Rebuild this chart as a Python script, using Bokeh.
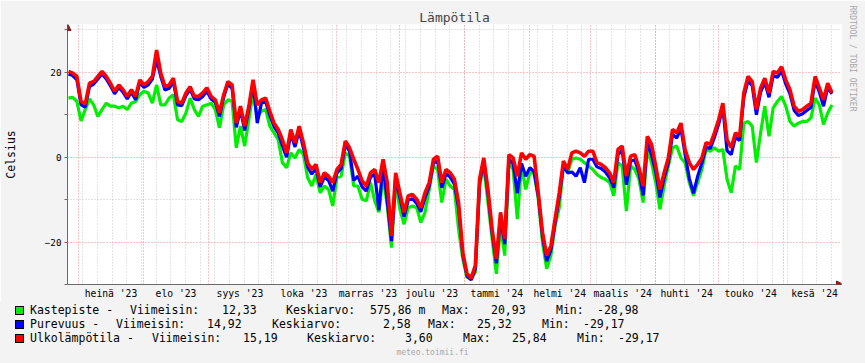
from datetime import datetime, timedelta
from bokeh.plotting import figure
from bokeh.layouts import column
from bokeh.models import (Range1d, FixedTicker, Grid, Arrow, NormalHead,
                          ColumnDataSource, Title, Div)
from bokeh.embed import file_html
from bokeh.resources import INLINE

# ---------------- data (one value every 2 days from 2023-06-26) ----------------
start = datetime(2023, 6, 26, 6, 0)

ulkolampotila = [
    20.2, 19.8, 19.0, 13.1, 12.6, 17.4, 17.8, 19.0, 20.2, 19.0,
    17.4, 15.5, 17.0, 15.9, 14.3, 15.9, 14.3, 18.2, 17.0, 17.8,
    19.0, 25.2, 19.8, 16.6, 17.0, 18.6, 13.1, 12.7, 15.1, 16.6,
    14.3, 14.3, 15.1, 16.3, 14.3, 13.5, 10.4, 14.7, 17.8, 17.0,
    8.0, 12.0, 7.3, 12.0, 18.2, 12.3, 13.5, 13.9, 10.8, 8.0,
    6.5, 4.1, 1.0, 6.5, 3.4, 7.3, 3.4, -1.3, -2.9, -1.7,
    -6.0, -3.7, -4.5, -6.0, -2.9, -1.7, 3.8, 2.2, -0.5, -2.9,
    -5.6, -6.8, -3.7, -2.9, -6.0, -0.5, -6.0, -18.6, -3.7, -8.4,
    -13.0, -9.1, -8.8, -9.9, -11.9, -8.4, -6.0, -0.5, 0.2, -6.0,
    -2.9, -3.7, -5.2, -10.7, -22.4, -27.5, -28.5, -25.5, -5.2, -0.2,
    -7.6, -17.0, -24.0, -13.0, -19.3, 0.6, -0.2, -4.5, 1.0, -0.5,
    0.6, 0.2, -8.4, -17.7, -23.2, -20.9, -14.6, -8.4, -0.9, -2.9,
    1.0, 1.4, 1.0, 0.2, 1.4, 1.4, -1.3, -1.7, -2.5, -3.7,
    -6.0, 1.8, 2.6, -4.5, 0.2, 0.6, -2.5, -6.8, 4.9, 3.0,
    -2.1, -7.6, -3.7, -0.2, 6.5, 5.7, 8.0, 1.8, -1.3, -2.9,
    -1.7, -0.2, 3.4, 3.0, 5.7, 8.8, 12.7, 4.1, 2.2, 5.7,
    4.9, 15.1, 19.0, 17.8, 11.2, 16.3, 18.6, 15.1, 20.2, 19.8,
    21.3, 18.2, 15.9, 12.0, 10.8, 11.2, 12.0, 12.7, 19.0, 16.3,
    13.5, 17.4, 15.2,
]

purevuus = [
    19.6, 19.2, 18.2, 12.3, 11.8, 16.6, 17.2, 18.4, 19.6, 18.4,
    16.8, 14.9, 16.4, 15.3, 13.7, 15.3, 13.5, 17.6, 16.4, 17.0,
    18.4, 23.0, 19.0, 15.8, 16.2, 17.8, 12.3, 12.1, 14.5, 16.0,
    13.7, 13.5, 14.3, 15.5, 13.7, 12.9, 9.6, 14.1, 17.2, 16.2,
    7.0, 11.2, 6.3, 11.2, 17.4, 8.0, 12.7, 13.1, 9.8, 7.2,
    5.7, 2.6, 0.0, 5.5, 2.4, 6.3, 2.2, -2.3, -4.0, -2.7,
    -7.0, -4.7, -5.5, -8.0, -3.7, -2.7, 3.0, 1.4, -5.5, -4.5,
    -7.0, -8.0, -4.7, -4.0, -12.5, -1.5, -10.5, -19.8, -4.7, -9.6,
    -14.0, -10.1, -9.8, -10.9, -12.9, -9.6, -6.8, -1.3, -1.0, -7.2,
    -3.9, -4.7, -6.4, -12.0, -23.0, -28.0, -28.9, -26.3, -6.0, -1.2,
    -8.6, -18.0, -25.0, -14.2, -20.5, -0.4, -1.5, -8.5, -1.5, -4.5,
    -2.5, -3.5, -9.2, -18.7, -24.5, -21.9, -15.6, -9.4, -1.9, -3.7,
    -3.5, -4.5, -2.5, -6.0, -0.5, -0.5, -2.3, -2.7, -3.5, -4.9,
    -7.2, 0.6, 1.6, -6.5, -1.0, -0.6, -3.7, -9.0, 3.5, 0.5,
    -3.5, -9.5, -4.9, -1.4, 5.3, 4.5, 6.8, 0.6, -5.0, -8.5,
    -4.5, -1.4, 2.4, 2.0, 4.7, 7.8, 11.7, 1.5, 0.6, 4.7,
    3.9, 14.1, 18.0, 16.8, 10.0, 15.3, 17.6, 14.1, 19.2, 18.8,
    20.3, 17.2, 14.9, 11.0, 9.8, 10.2, 11.0, 11.7, 18.0, 15.3,
    12.0, 16.4, 14.9,
]

kastepiste = [
    13.9, 14.1, 13.1, 8.5, 11.2, 13.7, 12.3, 9.6, 11.2, 12.7,
    12.0, 12.0, 11.6, 12.0, 11.2, 12.7, 13.1, 14.7, 15.5, 15.1,
    12.7, 17.0, 12.3, 12.3, 13.9, 14.7, 8.8, 8.4, 10.4, 13.9,
    11.2, 9.6, 12.0, 12.3, 12.7, 11.2, 6.9, 12.3, 13.5, 13.1,
    2.2, 7.3, 2.6, 8.8, 15.1, 9.6, 10.8, 11.2, 7.3, 5.7,
    4.1, -1.3, -2.5, 1.0, -0.2, 1.8, 0.6, -4.8, -6.8, -4.1,
    -8.4, -6.8, -7.6, -11.5, -4.8, -4.5, 1.0, 0.2, -6.8, -6.8,
    -9.9, -10.3, -6.0, -10.3, -13.0, -4.5, -11.5, -21.3, -6.0, -12.3,
    -15.8, -11.9, -11.5, -11.9, -15.4, -13.0, -7.6, -2.1, -2.9, -10.7,
    -5.2, -6.8, -7.6, -17.0, -24.0, -28.3, -28.7, -27.1, -6.8, -2.1,
    -10.7, -19.3, -27.5, -16.2, -23.2, -1.3, -2.9, -14.6, -2.1, -7.6,
    -3.7, -3.7, -9.9, -20.1, -26.3, -23.2, -16.2, -11.9, -2.1, -3.7,
    -0.5, -0.2, -0.5, -1.3, -2.1, -2.9, -4.1, -4.8, -5.2, -6.0,
    -9.1, -1.3, -2.1, -12.7, -2.1, -2.9, -5.2, -10.7, 1.8, -1.3,
    -6.0, -12.3, -6.8, -2.1, 2.2, 2.6, -0.2, -1.3, -6.0, -9.1,
    -6.0, -2.9, 1.8, 1.4, 2.2, 1.4, 1.8, -5.2, -8.4, -2.1,
    -2.9, 8.0, 8.4, 7.3, -1.3, 5.7, 12.0, 4.9, 11.6, 13.1,
    14.3, 12.0, 8.4, 7.3, 8.0, 8.4, 8.4, 9.2, 13.9, 12.3,
    7.7, 10.4, 12.3,
]

month_starts = ["2023-07-01", "2023-08-01", "2023-09-01", "2023-10-01",
                "2023-11-01", "2023-12-01", "2024-01-01", "2024-02-01",
                "2024-03-01", "2024-04-01", "2024-05-01", "2024-06-01",
                "2024-07-01"]
month_labels = ["heinä '23", "elo '23", "syys '23", "loka '23", "marras '23",
                "joulu '23", "tammi '24", "helmi '24", "maalis '24",
                "huhti '24", "touko '24", "kesä '24"]

legend_rows = [
    ("#00ee00", [(30, "Kastepiste -"), (130, "Viimeisin:"), (222, "12,33"),
                 (286, "Keskiarvo:"), (370, "575,86 m"), (442, "Max:"),
                 (491, "20,93"), (556, "Min:"), (597, "-28,98")]),
    ("#0000ff", [(30, "Purevuus -"), (116, "Viimeisin:"), (207, "14,92"),
                 (272, "Keskiarvo:"), (383, "2,58"), (428, "Max:"),
                 (477, "25,32"), (542, "Min:"), (583, "-29,17")]),
    ("#ff0000", [(30, "Ulkolämpötila -"), (152, "Viimeisin:"), (243, "15,19"),
                 (307, "Keskiarvo:"), (405, "3,60"), (463, "Max:"),
                 (512, "25,84"), (577, "Min:"), (618, "-29,17")]),
]

# ---------------- helpers ----------------
EPOCH = datetime(1970, 1, 1)


def ms(dt):
    return (dt - EPOCH).total_seconds() * 1000.0


def to_dt(s):
    return datetime.strptime(s, "%Y-%m-%d")


MONO = "DejaVu Sans Mono"
BG = "#f3f3f3"
W = 865
SPLIT = 302          # page row where the legend strip begins
FL, FR, FT, FB = 66, 841, 24, 284   # plot frame in page pixels
PX_PER_DAY = 2.1
PX_PER_DEG = 4.246

dates = [ms(start + timedelta(days=2 * i)) for i in range(len(ulkolampotila))]
src = ColumnDataSource(dict(x=dates, kaste=kastepiste, pure=purevuus, ulko=ulkolampotila))

x0 = ms(start - timedelta(days=(67 - FL) / PX_PER_DAY))
x1 = ms(start + timedelta(days=(FR - 67) / PX_PER_DAY))
y0 = -30.0
y1 = -30.0 + (FB - FT) / PX_PER_DEG

p = figure(width=W, height=SPLIT, output_backend="svg", toolbar_location=None,
           x_range=Range1d(x0, x1), y_range=Range1d(y0, y1),
           min_border_left=FL, min_border_right=W - FR, min_border_top=FT,
           min_border_bottom=SPLIT - FB)
p.background_fill_color = "white"
p.border_fill_color = BG
p.outline_line_color = None

# title
p.title.text = "Lämpötila"
p.title.align = "center"
p.title.text_font = MONO
p.title.text_font_size = "13px"
p.title.text_font_style = "normal"
p.title.standoff = 0

# watermark on the right
p.add_layout(Title(text="RRDTOOL / TOBI OETIKER", align="left", offset=-19,
                   text_font=MONO, text_font_size="8px", text_font_style="normal",
                   text_color="#a8a8a8", standoff=12), "right")

# grids
month_ms = [ms(to_dt(m)) for m in month_starts]
mid_ms = [(a + b) / 2.0 for a, b in zip(month_ms[:-1], month_ms[1:])]
week_ms = []
wd = datetime(2023, 6, 26)
while wd < datetime(2024, 7, 1):
    week_ms.append(ms(wd))
    wd += timedelta(days=7)

p.xgrid.visible = False
p.ygrid.visible = False
GRAY_GRID = "#c8c8c8"
RED_GRID = "#f08c8c"
wk = Grid(dimension=0, ticker=FixedTicker(ticks=week_ms), grid_line_color=GRAY_GRID,
          grid_line_dash="1 2", grid_line_width=1)
mn = Grid(dimension=0, ticker=FixedTicker(ticks=month_ms[:-1]), grid_line_color=RED_GRID,
          grid_line_dash="1 2", grid_line_width=1)
hminor = Grid(dimension=1, ticker=FixedTicker(ticks=[-10, 10, 30]), grid_line_color=GRAY_GRID,
              grid_line_dash="1 2", grid_line_width=1)
hmajor = Grid(dimension=1, ticker=FixedTicker(ticks=[-20, 0, 20]), grid_line_color=RED_GRID,
              grid_line_dash="1 2", grid_line_width=1)
for g in (wk, hminor, mn, hmajor):
    p.add_layout(g)

# series (drawn green, blue, red)
p.line("x", "kaste", source=src, color="#00ee00", line_width=3.2)
p.line("x", "pure", source=src, color="#0000ff", line_width=3.2)
p.line("x", "ulko", source=src, color="#ff0000", line_width=3.6)

# axes
AX = "#6a6a6a"
p.xaxis.ticker = FixedTicker(ticks=mid_ms)
p.xaxis.major_label_overrides = {t: lab for t, lab in zip(mid_ms, month_labels)}
p.xaxis.major_tick_line_color = None
p.xaxis.minor_tick_line_color = None
p.xaxis.major_tick_out = 0
p.xaxis.major_label_standoff = 3
p.xaxis.axis_line_color = AX
p.xaxis.major_label_text_font = MONO
p.xaxis.major_label_text_font_size = "9.7px"
p.xaxis.major_label_text_color = "black"

p.yaxis.ticker = FixedTicker(ticks=[-20, 0, 20], minor_ticks=[-30, -10, 10, 30])
p.yaxis.axis_line_color = AX
p.yaxis.major_tick_line_color = AX
p.yaxis.minor_tick_line_color = AX
p.yaxis.major_tick_out = 3
p.yaxis.major_tick_in = 0
p.yaxis.minor_tick_out = 3
p.yaxis.minor_tick_in = 0
p.yaxis.major_label_standoff = 3
p.yaxis.major_label_text_font = MONO
p.yaxis.major_label_text_font_size = "9.3px"
p.yaxis.major_label_text_color = "black"
p.yaxis.axis_label = "Celsius"
p.yaxis.axis_label_text_font = MONO
p.yaxis.axis_label_text_font_size = "11.5px"
p.yaxis.axis_label_text_font_style = "normal"
p.yaxis.axis_label_text_color = "black"
p.yaxis.axis_label_standoff = 24

# arrows at the axis ends (screen units, relative to the frame)
head_col = "#8b1a1a"
p.add_layout(Arrow(x_start=0.5, y_start=FB - FT - 7, x_end=0.5, y_end=FB - FT,
                   start_units="screen", end_units="screen", line_alpha=0,
                   end=NormalHead(size=6, fill_color=head_col, line_color=head_col)))
p.add_layout(Arrow(x_start=FR - FL - 7, y_start=0.5, x_end=FR - FL, y_end=0.5,
                   start_units="screen", end_units="screen", line_alpha=0,
                   end=NormalHead(size=6, fill_color=head_col, line_color=head_col)))

# ---------------- legend strip (HTML, page pixel positions) ----------------
H2 = 363 - SPLIT
LINE_H = 14
row_y = [310, 324, 338]
items = []
for (col, parts), yy in zip(legend_rows, row_y):
    top_box = yy - 4 - SPLIT
    items.append(
        f'<div style="position:absolute;left:15px;top:{top_box}px;width:9px;height:9px;'
        f'border:1px solid #000;background:{col};"></div>')
    for xx, s in parts:
        items.append(
            f'<span style="position:absolute;left:{xx}px;top:{yy - LINE_H / 2 - SPLIT}px;'
            f'line-height:{LINE_H}px;white-space:pre;">{s}</span>')
items.append(
    f'<span style="position:absolute;left:0px;width:{W}px;text-align:center;'
    f'top:{353 - 5 - SPLIT}px;line-height:10px;font-size:8px;color:#a8a8a8;">'
    f'meteo.toimii.fi</span>')

html = (f'<div style="position:relative;width:{W}px;height:{H2}px;background:{BG};'
        f'font-family:\'{MONO}\';font-size:11.5px;color:#000;overflow:hidden;">'
        + "".join(items) + '</div>')
legend = Div(text=html, width=W, height=H2, margin=(0, 0, 0, 0),
             styles={"background-color": BG})

layout = column(p, legend, spacing=0)
open("out.html", "w").write(file_html(layout, INLINE))
